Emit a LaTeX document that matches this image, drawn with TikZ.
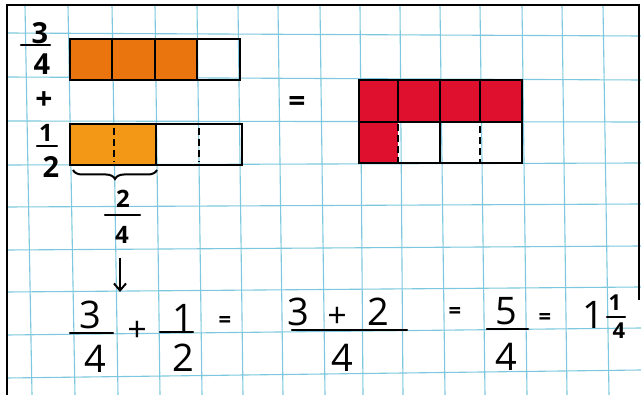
\documentclass[tikz,border=0pt]{standalone}
\usepackage{fontspec}
\setmainfont{Open Sans}
\usetikzlibrary{decorations.pathreplacing,arrows.meta}
\definecolor{gridblue}{RGB}{125,200,222}
\definecolor{orangeA}{RGB}{234,116,14}
\definecolor{orangeB}{RGB}{243,152,22}
\definecolor{redfill}{RGB}{222,16,46}
\tikzset{
  gridline/.style={gridblue, line width=1.1pt},
  boxline/.style={black, line width=2.2pt},
  dashdiv/.style={black, line width=2.2pt, dash pattern=on 7pt off 4pt},
  fracbar/.style={black, line width=2.4pt, line cap=round},
  big/.style={inner sep=0pt, font=\fontsize{38}{38}\selectfont},
  bigop/.style={inner sep=0pt, font=\fontsize{34}{34}\selectfont},
  mid/.style={inner sep=0pt, font=\bfseries\fontsize{29}{29}\selectfont},
  midop/.style={inner sep=0pt, font=\bfseries\fontsize{30}{30}\selectfont},
  small/.style={inner sep=0pt, font=\bfseries\fontsize{24}{24}\selectfont},
  eqsign/.style={inner sep=0pt, font=\bfseries\fontsize{22}{22}\selectfont},
  tiny/.style={inner sep=0pt, font=\bfseries\fontsize{22}{22}\selectfont},
}
\begin{document}
\begin{tikzpicture}[x=1pt,y=-1pt]
\useasboundingbox (0,0) rectangle (641,395);
\fill[white] (0,0) rectangle (641,395);
% grid
\foreach \a/\b in {25/32,68/75,112/118,155/160,197/202,238/243,278/283,320/325,360/363,400/403,440/445,480/485,522/527,562/567,603/609}
  \draw[gridline] (\a,5) -- (\b,395);
\foreach \a/\b in {33/36,77/80,121/122,165/163,207/204,250/246,292/287,335/328,378/370}
  \draw[gridline] (7,\a) -- (641,\b);
% frame
\draw[black, line width=2.6pt] (7,395) -- (7,5) -- (639,5) -- (639,300);
% 3/4 bar
\fill[orangeA] (70,39) rectangle (197,80);
\draw[boxline] (70,39) rectangle (240,80);
\foreach \x in {112,155,197} \draw[boxline] (\x,39) -- (\x,80);
% 1/2 bar
\fill[orangeB] (70,124) rectangle (156,165);
\draw[boxline] (70,124) rectangle (242,165);
\draw[boxline] (156,124) -- (156,165);
\draw[dashdiv] (114,128) -- (114,162);
\draw[dashdiv] (199,128) -- (199,162);
% red result
\fill[redfill] (359,80) rectangle (522,122);
\fill[redfill] (359,122) rectangle (398,163);
\draw[boxline] (359,80) rectangle (522,163);
\draw[boxline] (359,122) -- (522,122);
\foreach \x in {398,440,480} \draw[boxline] (\x,80) -- (\x,122);
\draw[boxline] (440,122) -- (440,163);
\draw[dashdiv] (398,124) -- (398,162);
\draw[dashdiv] (480,126) -- (480,162);
% left labels
\node[mid] (l3) at (40,33) {3};
\draw[fracbar] (21,45) -- (50,45);
\node[mid] (l4) at (42,64) {4};
\node[midop] (lplus) at (44,101) {+};
\node[small] (l1) at (46,133) {1};
\draw[fracbar] (37,146) -- (57,146);
\node[mid] (l2) at (51,167) {2};
\node[midop] (topeq) at (297,104) {=};
% brace and 2/4
\draw[black, line width=2pt, decorate, decoration={brace, mirror, amplitude=9pt}] (73,170) -- (157,170);
\node[small] (b2) at (123,199) {2};
\draw[fracbar] (105,215) -- (140,215);
\node[small] (b4) at (122,235) {4};
\coordinate (arrS) at (120,258);
\coordinate (arrE) at (120,292);
\draw[black, line width=2pt, -{Straight Barb[length=7pt,width=12pt]}] (arrS) -- (arrE);
% bottom equation
\node[big] (e3) at (90,315) {3};
\draw[fracbar] (70,333) -- (113,333);
\node[big] (e4) at (95,359) {4};
\node[bigop] (eplus) at (137,331) {+};
\node[big] (e1) at (183,318) {1};
\draw[fracbar] (160,332) -- (193,332);
\node[big] (e2) at (183,358) {2};
\node[eqsign] (eq1) at (225,322) {=};
\node[big] (n3) at (298,312) {3};
\node[bigop] (nplus) at (337,317) {+};
\node[big] (n2) at (378,312) {2};
\draw[fracbar] (292,330) -- (407,330);
\node[big] (n4) at (342,358) {4};
\node[eqsign] (eq2) at (455,313) {=};
\node[big] (f5) at (506,311) {5};
\draw[fracbar] (487,329) -- (528,329);
\node[big] (f4) at (506,357) {4};
\node[eqsign] (eq3) at (545,319) {=};
\node[big] (m1) at (593,315) {1};
\node[tiny] (m1s) at (615,303) {1};
\draw[fracbar] (607,317) -- (625,317);
\node[tiny] (m4s) at (619,331) {4};
\end{tikzpicture}
\end{document}
